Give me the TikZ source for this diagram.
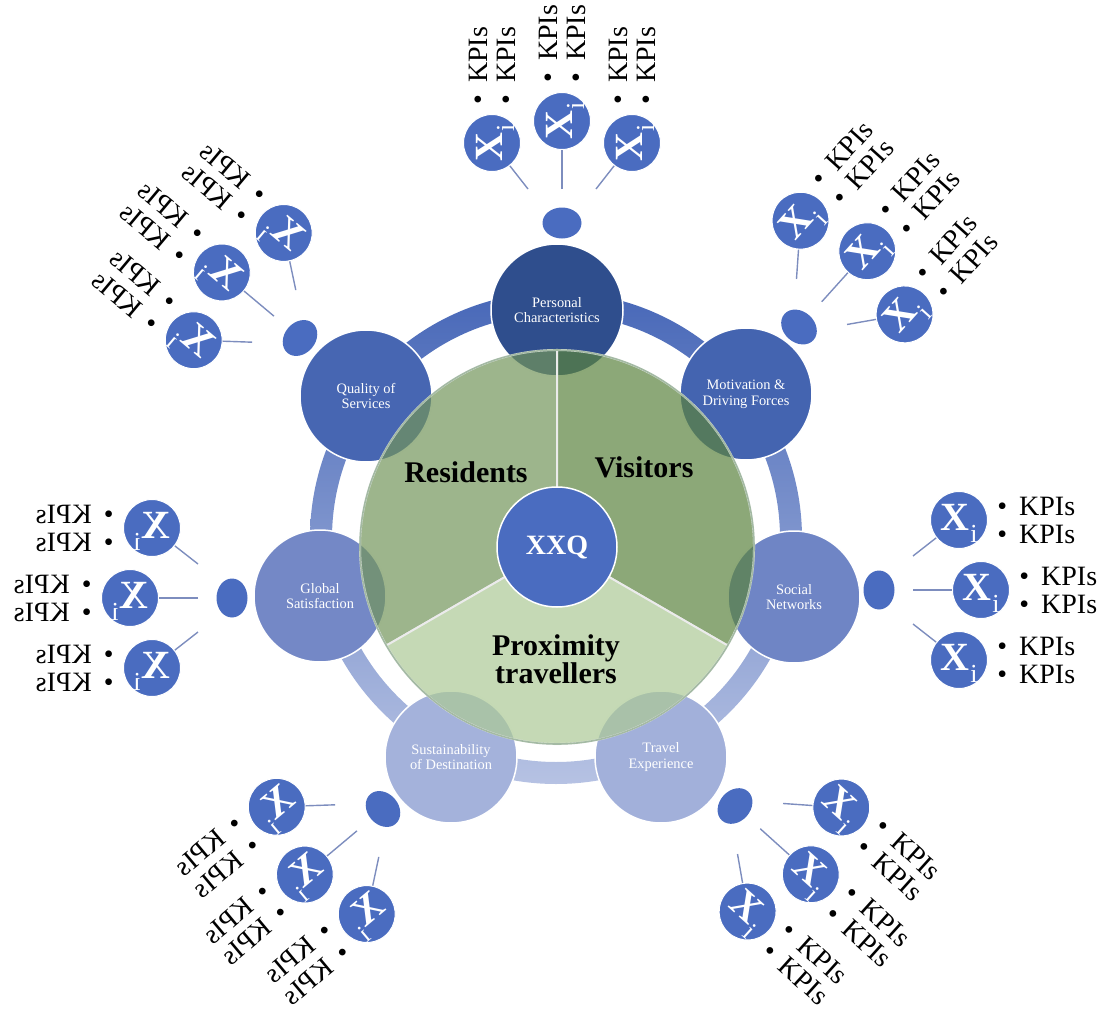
\documentclass[tikz,border=0pt]{standalone}
\usepackage{fontspec}
\setmainfont{Liberation Serif}
\usepackage{tikz}
\usetikzlibrary{shapes.geometric, positioning, backgrounds}

\definecolor{xiblue}{HTML}{4A6CC0}
\definecolor{linkblue}{HTML}{7D8DBE}
\definecolor{persblue}{HTML}{2F4E8D}
\definecolor{motivblue}{HTML}{4464B0}
\definecolor{qualblue}{HTML}{4766B2}
\definecolor{socblue}{HTML}{6F85C5}
\definecolor{globblue}{HTML}{7488C6}
\definecolor{travblue}{HTML}{A2B0DA}
\definecolor{sustblue}{HTML}{A4B2DB}
\definecolor{ringtop}{HTML}{4868B8}
\definecolor{ringbot}{HTML}{B6C2E3}
\definecolor{resgreen}{HTML}{73955B}
\definecolor{visgreen}{HTML}{5B833E}
\definecolor{proxgreen}{HTML}{ACC995}

\tikzset{
    satnode/.style={circle, draw=white, line width=0.75pt, minimum size=66pt, inner sep=0pt, align=center, text=white, font=\fontsize{7.2}{7.8}\selectfont},
    hubdot/.style={ellipse, fill=xiblue, minimum width=15.5pt, minimum height=19.5pt, inner sep=0pt, transform shape},
    xinode/.style={circle, fill=xiblue, draw=white, line width=0.5pt, minimum size=28.5pt, inner sep=0pt, text=white, transform shape},
    kpinode/.style={anchor=west, align=left, inner sep=0pt, font=\fontsize{14}{14}\selectfont, transform shape},
    xilink/.style={draw=linkblue, line width=0.7pt},
    pieseg/.style={draw=white!92!black, line width=1pt, fill opacity=0.7},
    seglabel/.style={align=center, font=\fontsize{15}{14}\selectfont\bfseries},
    corenode/.style={circle, fill=xiblue, draw=white, line width=0.75pt, minimum size=60pt, inner sep=0pt, text=white, font=\fontsize{14}{14}\selectfont\bfseries}
}

\newcommand{\xisym}{\raisebox{-5pt}[0pt][0pt]{\makebox[0pt]{\fontsize{20}{20}\selectfont\bfseries X\kern0.6pt\fontsize{13}{13}\selectfont\mdseries\raisebox{-6pt}{i}}}}
\newcommand{\kpilist}{\textbullet\hspace{6pt}KPIs\\\textbullet\hspace{6pt}KPIs}

\begin{document}
\begin{tikzpicture}[x=0.5pt, y=0.5pt]

        \useasboundingbox (0,0) rectangle (1105,-1012);

        % -----------------------------------------------------------------
        % ANELLO ESTERNO
        % -----------------------------------------------------------------
        \coordinate (ringc) at (556,-538);
        \shade[even odd rule, top color=ringtop, bottom color=ringbot] (ringc) circle (246) (ringc) circle (224);

        % -----------------------------------------------------------------
        % CERCHI SATELLITE
        % -----------------------------------------------------------------
        \node (pers) [satnode, fill=persblue] at (557,-310) {Personal\\Characteristics};
        \node (motiv) [satnode, fill=motivblue] at (746,-394) {Motivation \&\\Driving Forces};
        \node (social) [satnode, fill=socblue] at (794,-597) {Social\\Networks};
        \node (travel) [satnode, fill=travblue] at (661,-757) {Travel\\Experience};
        \node (sust) [satnode, fill=sustblue] at (451,-757) {Sustainability\\of Destination};
        \node (global) [satnode, fill=globblue] at (320,-596) {Global\\Satisfaction};
        \node (quality) [satnode, fill=qualblue] at (366,-396) {Quality of\\Services};

        % =================================================================
        % GRUPPI Xi / KPIs
        % =================================================================

        % Personal Characteristics
        \begin{scope}[shift={(562,-223)}, rotate=90]
            \node (pc_hub) [hubdot] at (0,0) {};
            \node (pc_x1) [xinode] at (80,70) {\xisym};
            \node (pc_x2) [xinode] at (102,0) {\xisym};
            \node (pc_x3) [xinode] at (80,-70) {\xisym};
            \coordinate (pc_s1) at (34,34);
            \coordinate (pc_s2) at (34,0);
            \coordinate (pc_s3) at (34,-34);
            \draw[xilink] (pc_s1) -- (pc_x1);
            \draw[xilink] (pc_s2) -- (pc_x2);
            \draw[xilink] (pc_s3) -- (pc_x3);
            \node (pc_k1) [kpinode] at (118,70) {\kpilist};
            \node (pc_k2) [kpinode] at (140,0) {\kpilist};
            \node (pc_k3) [kpinode] at (118,-70) {\kpilist};
        \end{scope}

        % Motivation & Driving Forces
        \begin{scope}[shift={(799,-327)}, rotate=48]
            \node (md_hub) [hubdot] at (0,0) {};
            \node (md_x1) [xinode] at (80,70) {\xisym};
            \node (md_x2) [xinode] at (102,0) {\xisym};
            \node (md_x3) [xinode] at (80,-70) {\xisym};
            \coordinate (md_s1) at (34,34);
            \coordinate (md_s2) at (34,0);
            \coordinate (md_s3) at (34,-34);
            \draw[xilink] (md_s1) -- (md_x1);
            \draw[xilink] (md_s2) -- (md_x2);
            \draw[xilink] (md_s3) -- (md_x3);
            \node (md_k1) [kpinode] at (118,70) {\kpilist};
            \node (md_k2) [kpinode] at (140,0) {\kpilist};
            \node (md_k3) [kpinode] at (118,-70) {\kpilist};
        \end{scope}

        % Social Networks
        \begin{scope}[shift={(879,-590)}]
            \node (sn_hub) [hubdot] at (0,0) {};
            \node (sn_x1) [xinode] at (80,70) {\xisym};
            \node (sn_x2) [xinode] at (102,0) {\xisym};
            \node (sn_x3) [xinode] at (80,-70) {\xisym};
            \coordinate (sn_s1) at (34,34);
            \coordinate (sn_s2) at (34,0);
            \coordinate (sn_s3) at (34,-34);
            \draw[xilink] (sn_s1) -- (sn_x1);
            \draw[xilink] (sn_s2) -- (sn_x2);
            \draw[xilink] (sn_s3) -- (sn_x3);
            \node (sn_k1) [kpinode] at (118,70) {\kpilist};
            \node (sn_k2) [kpinode] at (140,0) {\kpilist};
            \node (sn_k3) [kpinode] at (118,-70) {\kpilist};
        \end{scope}

        % Travel Experience
        \begin{scope}[shift={(735,-806)}, rotate=-42]
            \node (te_hub) [hubdot] at (0,0) {};
            \node (te_x1) [xinode] at (80,70) {\xisym};
            \node (te_x2) [xinode] at (102,0) {\xisym};
            \node (te_x3) [xinode] at (80,-70) {\xisym};
            \coordinate (te_s1) at (34,34);
            \coordinate (te_s2) at (34,0);
            \coordinate (te_s3) at (34,-34);
            \draw[xilink] (te_s1) -- (te_x1);
            \draw[xilink] (te_s2) -- (te_x2);
            \draw[xilink] (te_s3) -- (te_x3);
            \node (te_k1) [kpinode] at (118,70) {\kpilist};
            \node (te_k2) [kpinode] at (140,0) {\kpilist};
            \node (te_k3) [kpinode] at (118,-70) {\kpilist};
        \end{scope}

        % Sustainability of Destination (specchiato)
        \begin{scope}[shift={(383,-809)}, xscale=-1, rotate=-40]
            \node (sd_hub) [hubdot] at (0,0) {};
            \node (sd_x1) [xinode] at (80,70) {\xisym};
            \node (sd_x2) [xinode] at (102,0) {\xisym};
            \node (sd_x3) [xinode] at (80,-70) {\xisym};
            \coordinate (sd_s1) at (34,34);
            \coordinate (sd_s2) at (34,0);
            \coordinate (sd_s3) at (34,-34);
            \draw[xilink] (sd_s1) -- (sd_x1);
            \draw[xilink] (sd_s2) -- (sd_x2);
            \draw[xilink] (sd_s3) -- (sd_x3);
            \node (sd_k1) [kpinode] at (118,70) {\kpilist};
            \node (sd_k2) [kpinode] at (140,0) {\kpilist};
            \node (sd_k3) [kpinode] at (118,-70) {\kpilist};
        \end{scope}

        % Global Satisfaction (specchiato)
        \begin{scope}[shift={(232,-598)}, xscale=-1]
            \node (gs_hub) [hubdot] at (0,0) {};
            \node (gs_x1) [xinode] at (80,70) {\xisym};
            \node (gs_x2) [xinode] at (102,0) {\xisym};
            \node (gs_x3) [xinode] at (80,-70) {\xisym};
            \coordinate (gs_s1) at (34,34);
            \coordinate (gs_s2) at (34,0);
            \coordinate (gs_s3) at (34,-34);
            \draw[xilink] (gs_s1) -- (gs_x1);
            \draw[xilink] (gs_s2) -- (gs_x2);
            \draw[xilink] (gs_s3) -- (gs_x3);
            \node (gs_k1) [kpinode] at (118,70) {\kpilist};
            \node (gs_k2) [kpinode] at (140,0) {\kpilist};
            \node (gs_k3) [kpinode] at (118,-70) {\kpilist};
        \end{scope}

        % Quality of Services (specchiato)
        \begin{scope}[shift={(300,-338)}, xscale=-1, rotate=40]
            \node (qs_hub) [hubdot] at (0,0) {};
            \node (qs_x1) [xinode] at (80,70) {\xisym};
            \node (qs_x2) [xinode] at (102,0) {\xisym};
            \node (qs_x3) [xinode] at (80,-70) {\xisym};
            \coordinate (qs_s1) at (34,34);
            \coordinate (qs_s2) at (34,0);
            \coordinate (qs_s3) at (34,-34);
            \draw[xilink] (qs_s1) -- (qs_x1);
            \draw[xilink] (qs_s2) -- (qs_x2);
            \draw[xilink] (qs_s3) -- (qs_x3);
            \node (qs_k1) [kpinode] at (118,70) {\kpilist};
            \node (qs_k2) [kpinode] at (140,0) {\kpilist};
            \node (qs_k3) [kpinode] at (118,-70) {\kpilist};
        \end{scope}

        % =================================================================
        % TORTA CENTRALE
        % =================================================================
        \coordinate (piec) at (557,-547);
        \draw[pieseg, fill=resgreen] (piec) -- ++(90:197) arc[start angle=90, end angle=210, radius=197] -- cycle;
        \draw[pieseg, fill=visgreen] (piec) -- ++(-30:197) arc[start angle=-30, end angle=90, radius=197] -- cycle;
        \draw[pieseg, fill=proxgreen] (piec) -- ++(210:197) arc[start angle=210, end angle=330, radius=197] -- cycle;
        \draw[green!30!black, opacity=0.3, line width=0.8pt] (piec) circle (197);

        \node (res_lbl) [seglabel] at (466,-472) {Residents};
        \node (vis_lbl) [seglabel] at (644,-467) {Visitors};
        \node (prox_lbl) [seglabel] at (556,-659) {Proximity\\travellers};

        % Nodo centrale
        \node (xxq) [corenode] at (piec) {XXQ};

\end{tikzpicture}
\end{document}
